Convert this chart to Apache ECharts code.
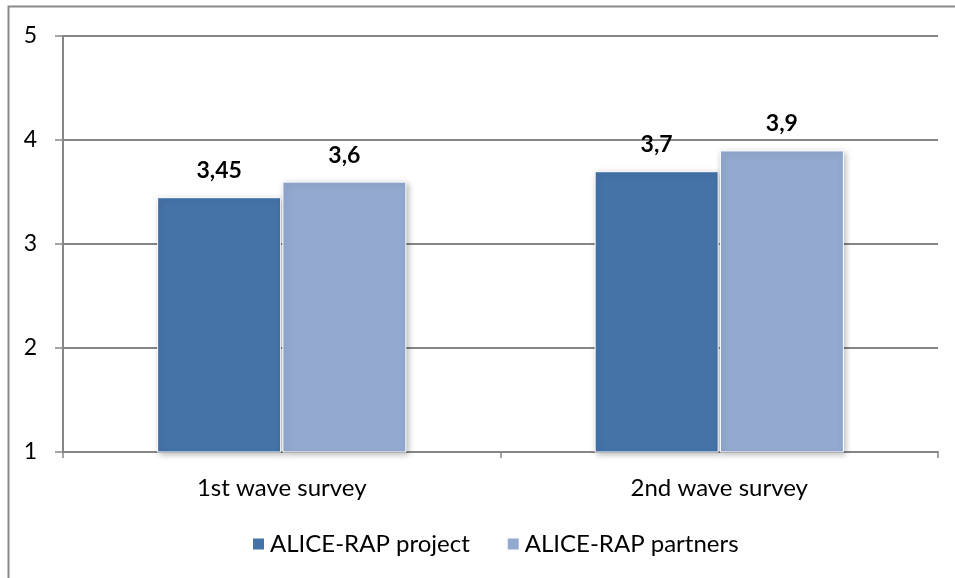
<!DOCTYPE html>
<html>
<head>
<meta charset="utf-8">
<script src="https://cdn.jsdelivr.net/npm/echarts@6/dist/echarts.min.js"></script>
<style>
html,body{margin:0;padding:0;background:#fff;}
#chart{width:955px;height:578px;}
</style>
</head>
<body>
<div id="chart"></div>
<script>
// Survey waves and mean scores per group
const categories = ['1st wave survey', '2nd wave survey'];
const projectScores = [3.45, 3.7];
const partnerScores = [3.6, 3.9];
const seriesNames = ['ALICE-RAP project', 'ALICE-RAP partners'];
const yTicks = [1, 2, 3, 4, 5];

const FONT = 'Lato, "Open Sans", sans-serif';
const fmt = v => String(v).replace('.', ',');

const chart = echarts.init(document.getElementById('chart'));

const barStyle = color => ({
  color: color,
  borderColor: '#ffffff',
  borderWidth: 1,
  shadowBlur: 6,
  shadowColor: 'rgba(0,0,0,0.28)',
  shadowOffsetX: 2,
  shadowOffsetY: 2
});

const labelStyle = {
  show: true,
  position: 'top',
  distance: 15,
  formatter: p => fmt(p.value),
  fontFamily: FONT,
  fontWeight: 'bold',
  fontSize: 23,
  color: '#000'
};

chart.setOption({
  animation: false,
  backgroundColor: '#fff',
  graphic: [{
    type: 'rect',
    shape: { x: 8.5, y: 6.5, width: 960, height: 590 },
    style: { fill: 'none', stroke: '#8a8a8a', lineWidth: 2 },
    silent: true,
    z: -1
  }],
  grid: { left: 63, right: 17, top: 36, bottom: 126, containLabel: false },
  legend: {
    top: 527,
    left: 246,
    itemWidth: 13,
    itemHeight: 13,
    itemGap: 36,
    icon: 'rect',
    textStyle: { fontFamily: FONT, fontSize: 24, color: '#000' },
    data: seriesNames
  },
  xAxis: {
    type: 'category',
    data: categories,
    axisLine: { lineStyle: { color: '#868686', width: 2 } },
    axisTick: { show: true, length: 6, lineStyle: { color: '#868686', width: 1.5 } },
    axisLabel: { fontFamily: FONT, fontSize: 24, color: '#000', margin: 24 }
  },
  yAxis: {
    type: 'value',
    min: 1,
    max: 5,
    interval: 1,
    axisLine: { show: true, lineStyle: { color: '#868686', width: 2 } },
    axisTick: { show: true, length: 8, lineStyle: { color: '#868686', width: 1.5 } },
    axisLabel: {
      fontFamily: FONT, fontSize: 23, color: '#000', margin: 26,
      formatter: v => yTicks.includes(v) ? String(v) : ''
    },
    splitLine: { lineStyle: { color: '#868686', width: 2 } }
  },
  series: [
    {
      name: seriesNames[0],
      type: 'bar',
      data: projectScores,
      barWidth: 124,
      barGap: '1%',
      itemStyle: barStyle('#4573A8'),
      label: labelStyle
    },
    {
      name: seriesNames[1],
      type: 'bar',
      data: partnerScores,
      barWidth: 124,
      itemStyle: barStyle('#94A9D0'),
      label: labelStyle
    }
  ]
});
</script>
</body>
</html>
